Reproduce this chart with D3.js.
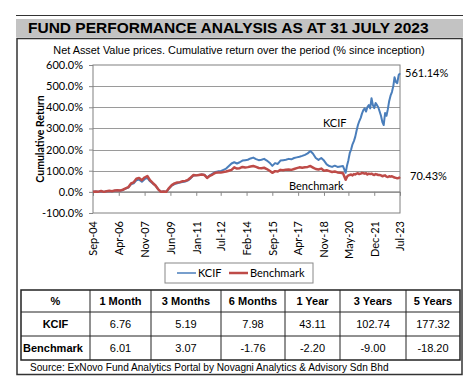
<!DOCTYPE html>
<html>
<head>
<meta charset="utf-8">
<script src="https://cdn.jsdelivr.net/npm/d3@7"></script>
<style>
  body { margin: 0; background: #fff; }
  svg { display: block; }
  .axis text { font-family: Lato, sans-serif; font-size: 11px; fill: #000; }
  .axis path { display: none; }
  .tbl text { font-family: "Liberation Sans", Arial, sans-serif; font-size: 11px; fill: #000; }
</style>
</head>
<body>
<div class="chart-fund"><svg></svg></div>
<script>
// month of each reading
var dates = ['2004-09','2004-11','2005-01','2005-03','2005-05','2005-07','2005-09','2005-11',
  '2006-01','2006-03','2006-05','2006-07','2006-09','2006-11','2007-01','2007-03','2007-05','2007-07',
  '2007-09','2007-11','2008-01','2008-03','2008-05','2008-07','2008-09','2008-11','2009-01','2009-03',
  '2009-05','2009-07','2009-09','2009-11','2010-01','2010-03','2010-05','2010-07','2010-09','2010-11',
  '2011-01','2011-03','2011-05','2011-07','2011-09','2011-11','2012-01','2012-03','2012-05','2012-07',
  '2012-09','2012-11','2013-01','2013-03','2013-05','2013-07','2013-09','2013-11','2014-01','2014-03',
  '2014-05','2014-07','2014-09','2014-11','2015-01','2015-03','2015-05','2015-07','2015-09','2015-11',
  '2016-01','2016-03','2016-05','2016-07','2016-09','2016-11','2017-01','2017-03','2017-05','2017-07',
  '2017-09','2017-11','2018-01','2018-03','2018-05','2018-07','2018-09','2018-11','2019-01','2019-03',
  '2019-05','2019-07','2019-09','2019-11','2020-01','2020-03','2020-04','2020-05','2020-06','2020-07',
  '2020-08','2020-09','2020-10','2020-11','2020-12','2021-01','2021-02','2021-03','2021-04','2021-05',
  '2021-06','2021-07','2021-08','2021-09','2021-10','2021-11','2021-12','2022-01','2022-02','2022-03',
  '2022-04','2022-05','2022-06','2022-07','2022-08','2022-09','2022-10','2022-11','2022-12','2023-01',
  '2023-02','2023-03','2023-04','2023-05','2023-06','2023-07'];

var kcifValues = [0,2,1,3,0,3,4,3,
  5,7,5,9,15,20,36,40,55,58,
  48,60,66,50,40,30,12,0,2,1,
  16,30,37,41,44,46,49,54,65,77,
  78,80,82,81,68,78,86,94,97,98,
  104,110,122,134,140,134,140,148,150,152,
  158,162,155,150,152,156,148,138,123,136,
  132,148,150,152,156,154,160,163,166,170,
  175,182,193,180,160,151,160,148,130,122,
  118,124,118,120,122,90,125,150,184,200,
  225,240,260,290,316,335,350,370,387,395,
  380,401,410,395,443,410,396,420,410,400,
  380,360,330,316,373,360,390,430,455,472,
  500,542,520,514,552,561.14];

var benchmarkValues = [0,2,1,4,0,3,5,3,
  6,8,6,10,16,22,40,45,62,66,
  55,68,75,55,42,30,12,0,2,0,
  18,32,40,44,46,50,52,57,68,80,
  78,80,82,80,66,76,82,90,92,91,
  94,96,100,104,116,110,112,118,115,117,
  120,122,118,113,112,114,108,100,90,98,
  96,104,102,105,106,104,108,112,116,114,
  116,118,122,115,108,106,110,100,102,98,
  94,96,92,90,88,57,72,78,80,82,
  78,84,82,86,88,84,86,90,88,86,
  88,82,86,84,86,82,80,84,82,80,
  80,78,74,76,78,72,70,74,72,74,
  70,68,66,64,65,70.43];

var yTicks = [-100, 0, 100, 200, 300, 400, 500, 600];
var xTickLabels = ['Sep-04','Apr-06','Nov-07','Jun-09','Jan-11','Jul-12','Feb-14',
  'Sep-15','Apr-17','Nov-18','May-20','Dec-21','Jul-23'];

var tableHeader = ['%', '1 Month', '3 Months', '6 Months', '1 Year', '3 Years', '5 Years'];
var kcifReturns = ['6.76', '5.19', '7.98', '43.11', '102.74', '177.32'];
var benchmarkReturns = ['6.01', '3.07', '-1.76', '-2.20', '-9.00', '-18.20'];

var kcifColor = '#4a7ebb';
var benchColor = '#be4b48';

function fundChart() {
  const margin = { top: 65, right: 74, bottom: 176, left: 93 };
  const w = 474, h = 389;
  const width = w - margin.left - margin.right;
  const height = h - margin.top - margin.bottom;
  const svg = d3.select('.chart-fund svg').attr('width', w).attr('height', h);
  const parse = d3.timeParse('%Y-%m');
  const parseTick = d3.timeParse('%b-%y');

  const series = dates.map((d, i) => ({ date: parse(d), kcif: kcifValues[i], bench: benchmarkValues[i] }));

  const x = d3.scaleTime()
    .domain([parse(dates[0]), parse(dates[dates.length - 1])])
    .range([0, width]);
  const y = d3.scaleLinear().domain([-100, 600]).range([height, 0]);

  // page frame
  svg.append('line').attr('x1', 16).attr('x2', 463).attr('y1', 15.5).attr('y2', 15.5)
    .attr('stroke', '#333').attr('stroke-width', 1);
  svg.append('rect').attr('x', 16).attr('y', 19).attr('width', 447).attr('height', 18).attr('fill', '#c3c3c3');
  svg.append('text').attr('x', 28).attr('y', 33)
    .attr('font-family', '"Liberation Sans", Arial, sans-serif').attr('font-weight', 'bold')
    .attr('font-size', 15.5).text('FUND PERFORMANCE ANALYSIS AS AT 31 JULY 2023');
  svg.append('rect').attr('x', 17).attr('y', 38.5).attr('width', 445).attr('height', 336)
    .attr('fill', 'none').attr('stroke', '#333').attr('stroke-width', 1.5);
  svg.append('text').attr('x', 239).attr('y', 54).attr('text-anchor', 'middle')
    .attr('font-family', '"Liberation Sans", Arial, sans-serif').attr('font-size', 10.9)
    .text('Net Asset Value prices. Cumulative return over the period (% since inception)');

  const g = svg.append('g').attr('transform', 'translate(' + margin.left + ',' + margin.top + ')');

  // gridlines
  g.append('g').selectAll('line').data(yTicks.filter(t => t > -100 && t < 600)).enter()
    .append('line')
    .attr('x1', 0).attr('x2', width)
    .attr('y1', d => Math.round(y(d)) + 0.5).attr('y2', d => Math.round(y(d)) + 0.5)
    .attr('stroke', '#9a9a9a').attr('stroke-width', 1);

  // y axis
  const axisY = d3.axisLeft(y).tickValues(yTicks)
    .tickFormat(d => d.toFixed(1) + '%').tickSizeInner(4).tickPadding(6);
  g.append('g').attr('class', 'axis axis-y').call(axisY)
    .selectAll('line').attr('stroke', '#888');

  // x axis crossing at zero, labels at bottom
  const axisX = d3.axisBottom(x).tickValues(xTickLabels.map(parseTick))
    .tickFormat(d3.timeFormat('%b-%y')).tickSizeInner(4).tickSizeOuter(0);
  const gx = g.append('g').attr('class', 'axis axis-x')
    .attr('transform', 'translate(0,' + y(0) + ')').call(axisX);
  gx.selectAll('line').attr('stroke', '#888');
  gx.selectAll('text')
    .attr('transform', 'rotate(-90)')
    .attr('text-anchor', 'end')
    .attr('x', -(y(-100) - y(0)) - 8)
    .attr('y', 0).attr('dy', '0.35em');
  g.append('line').attr('x1', 0).attr('x2', width).attr('y1', y(0)).attr('y2', y(0))
    .attr('stroke', '#888');

  // plot border
  g.append('rect').attr('x', 0).attr('y', 0).attr('width', width).attr('height', height)
    .attr('fill', 'none').attr('stroke', '#808080').attr('stroke-width', 1);

  // lines
  const lineK = d3.line().x(d => x(d.date)).y(d => y(d.kcif));
  const lineB = d3.line().x(d => x(d.date)).y(d => y(d.bench));
  g.append('path').datum(series).attr('d', lineK)
    .attr('fill', 'none').attr('stroke', kcifColor).attr('stroke-width', 2).attr('stroke-linejoin', 'round');
  g.append('path').datum(series).attr('d', lineB)
    .attr('fill', 'none').attr('stroke', benchColor).attr('stroke-width', 2.5).attr('stroke-linejoin', 'round');

  // series labels
  const lab = g.append('g').attr('font-family', 'Lato, sans-serif').attr('font-size', 11);
  const last = series[series.length - 1];
  lab.append('text').attr('x', width + 5).attr('y', y(last.kcif) + 4).text(last.kcif.toFixed(2) + '%');
  lab.append('text').attr('x', width + 10).attr('y', y(last.bench) + 3).text(last.bench.toFixed(2) + '%');
  lab.append('text').attr('x', 230).attr('y', 62).text('KCIF');
  lab.append('text').attr('x', 196).attr('y', 125).text('Benchmark');

  // y title
  svg.append('text').attr('transform', 'translate(44,' + (margin.top + y(250)) + ') rotate(-90)')
    .attr('text-anchor', 'middle').attr('font-family', 'Lato, sans-serif')
    .attr('font-weight', 'bold').attr('font-size', 10.5).text('Cumulative Return');

  // legend
  const lg = svg.append('g').attr('transform', 'translate(165,263)');
  lg.append('rect').attr('width', 148).attr('height', 20).attr('fill', '#fff')
    .attr('stroke', '#888').attr('stroke-width', 1);
  const items = [{ name: 'KCIF', color: kcifColor, x: 12 }, { name: 'Benchmark', color: benchColor, x: 64 }];
  items.forEach(it => {
    lg.append('line').attr('x1', it.x).attr('x2', it.x + 19).attr('y1', 10).attr('y2', 10)
      .attr('stroke', it.color).attr('stroke-width', it.name === 'KCIF' ? 1.5 : 2.5);
    lg.append('text').attr('x', it.x + 21).attr('y', 14).attr('font-family', 'Lato, sans-serif')
      .attr('font-size', 11).text(it.name);
  });

  // performance table
  const colEdges = [21, 90, 151, 221, 285, 340, 406, 460];
  const rowEdges = [290, 312, 336, 360];
  const rows = [tableHeader, ['KCIF'].concat(kcifReturns), ['Benchmark'].concat(benchmarkReturns)];
  const tbl = svg.append('g').attr('class', 'tbl');
  tbl.append('rect').attr('x', colEdges[0]).attr('y', rowEdges[0])
    .attr('width', colEdges[7] - colEdges[0]).attr('height', rowEdges[3] - rowEdges[0])
    .attr('fill', 'none').attr('stroke', '#222').attr('stroke-width', 1.5);
  colEdges.slice(1, -1).forEach(cx => {
    tbl.append('line').attr('x1', cx).attr('x2', cx).attr('y1', rowEdges[0]).attr('y2', rowEdges[3])
      .attr('stroke', '#222').attr('stroke-width', 1);
  });
  rowEdges.slice(1, -1).forEach(ry => {
    tbl.append('line').attr('x1', colEdges[0]).attr('x2', colEdges[7]).attr('y1', ry).attr('y2', ry)
      .attr('stroke', '#222').attr('stroke-width', 1);
  });
  rows.forEach((r, ri) => {
    r.forEach((cell, ci) => {
      const bold = ri === 0 || ci === 0;
      tbl.append('text')
        .attr('x', ci === 0 && ri === 2 ? colEdges[0] + 2 : (colEdges[ci] + colEdges[ci + 1]) / 2)
        .attr('y', (rowEdges[ri] + rowEdges[ri + 1]) / 2 + 4)
        .attr('text-anchor', ci === 0 && ri === 2 ? 'start' : 'middle')
        .attr('font-weight', bold ? 'bold' : 'normal')
        .text(cell);
    });
  });
  tbl.append('text').attr('x', 30).attr('y', 371).style('font-size', '10.1px')
    .text('Source: ExNovo Fund Analytics Portal by Novagni Analytics & Advisory Sdn Bhd');
}

fundChart();
</script>
</body>
</html>
